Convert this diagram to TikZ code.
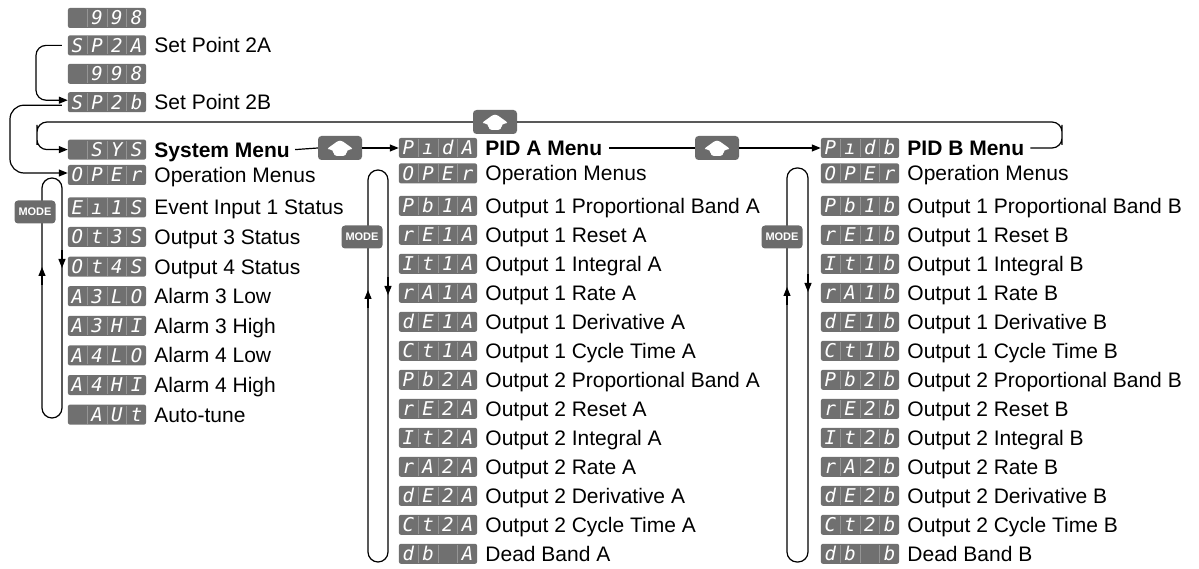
\documentclass[tikz,border=0pt]{standalone}
\usepackage{fontspec}
\setmainfont{Liberation Sans}
\newfontfamily\segfont{DejaVu Sans Mono}
\usepackage{tikz}
\usetikzlibrary{positioning,arrows.meta,calc}

\definecolor{dispgray}{HTML}{707070}
\definecolor{keygray}{HTML}{6B6B6B}
\definecolor{cellline}{HTML}{959595}

\newcommand{\segcell}[1]{\makebox[19pt]{\raisebox{-6.9pt}{#1}}}
\newcommand{\segsep}{{\color{cellline}\vrule width 0.7pt height 9pt depth 9pt}}
\newcommand{\segs}[4]{\segcell{#1}\segsep\segcell{#2}\segsep\segcell{#3}\segsep\segcell{#4}}

\begin{document}
\begin{tikzpicture}[
    x=1pt, y=-1pt,
    node distance=9.2pt and 8pt,
    disp/.style={
        fill=dispgray,
        rounded corners=2pt,
        inner sep=0pt,
        minimum width=78pt,
        minimum height=20pt,
        text=white,
        font=\segfont\itshape\fontsize{19}{19}\selectfont
    },
    lbl/.style={
        inner sep=0pt,
        text height=18pt,
        text depth=3pt,
        font=\fontsize{21}{21}\selectfont
    },
    hdr/.style={
        lbl,
        font=\bfseries\fontsize{21}{21}\selectfont
    },
    key/.style={
        fill=keygray,
        rounded corners=3.5pt,
        inner sep=0pt
    },
    upkey/.style={
        key,
        minimum width=44pt,
        minimum height=24pt,
        path picture={
            \fill[white] ($(path picture bounding box.center)+(0pt,8.5pt)$)
                -- ++(14pt,-10pt) -- ++(-7.5pt,0pt) -- ++(0pt,-6.5pt)
                -- ++(-13pt,0pt) -- ++(0pt,6.5pt) -- ++(-7.5pt,0pt) -- cycle;
        }
    },
    modekey/.style={
        key,
        minimum width=41pt,
        minimum height=23pt,
        text=white,
        font=\bfseries\fontsize{11}{11}\selectfont
    },
    line/.style={line width=1.2pt},
    arr/.style={line, -{Triangle[length=9pt,width=7pt]}}
]
    \useasboundingbox (0,0) rectangle (1199,569);

    %% Set points
    \node[disp] (nA) at (107,18) {\segs{}{9}{9}{8}};
    \node[disp, below=7pt of nA] (spa) {\segs{S}{P}{2}{A}};
    \node[lbl, right=of spa] (spaT) {Set Point 2A};
    \node[disp, below=8pt of spa] (nB) {\segs{}{9}{9}{8}};
    \node[disp, below=8pt of nB] (spb) {\segs{S}{P}{2}{b}};
    \node[lbl, right=of spb] (spbT) {Set Point 2B};

    %% System menu
    \node[disp, below=27pt of spb] (sys) {\segs{}{S}{Y}{S}};
    \node[hdr, right=of sys] (sysT) {System Menu};
    \node[disp, below=5pt of sys] (sys0) {\segs{O}{P}{E}{r}};
    \node[lbl, right=of sys0] {Operation Menus};
    \node[disp, below=12pt of sys0] (sys1) {\segs{E}{ı}{1}{S}};
    \node[lbl, right=of sys1] {Event Input 1 Status};
    \node[disp, below=of sys1] (sys2) {\segs{O}{t}{3}{S}};
    \node[lbl, right=of sys2] {Output 3 Status};
    \node[disp, below=of sys2] (sys3) {\segs{O}{t}{4}{S}};
    \node[lbl, right=of sys3] {Output 4 Status};
    \node[disp, below=of sys3] (sys4) {\segs{A}{3}{L}{O}};
    \node[lbl, right=of sys4] {Alarm 3 Low};
    \node[disp, below=of sys4] (sys5) {\segs{A}{3}{H}{I}};
    \node[lbl, right=of sys5] {Alarm 3 High};
    \node[disp, below=of sys5] (sys6) {\segs{A}{4}{L}{O}};
    \node[lbl, right=of sys6] {Alarm 4 Low};
    \node[disp, below=of sys6] (sys7) {\segs{A}{4}{H}{I}};
    \node[lbl, right=of sys7] {Alarm 4 High};
    \node[disp, below=of sys7] (sys8) {\segs{}{A}{U}{t}};
    \node[lbl, right=of sys8] {Auto-tune};

    %% PID A menu
    \node[disp] (pida) at (438,148) {\segs{P}{ı}{d}{A}};
    \node[hdr, right=of pida] (pidaT) {PID A Menu};
    \node[disp, below=5pt of pida] (pa0) {\segs{O}{P}{E}{r}};
    \node[lbl, right=of pa0] {Operation Menus};
    \node[disp, below=12pt of pa0] (pa1) {\segs{P}{b}{1}{A}};
    \node[lbl, right=of pa1] {Output 1 Proportional Band A};
    \node[disp, below=8.6pt of pa1] (pa2) {\segs{r}{E}{1}{A}};
    \node[lbl, right=of pa2] {Output 1 Reset A};
    \node[disp, below=8.6pt of pa2] (pa3) {\segs{I}{t}{1}{A}};
    \node[lbl, right=of pa3] {Output 1 Integral A};
    \node[disp, below=8.6pt of pa3] (pa4) {\segs{r}{A}{1}{A}};
    \node[lbl, right=of pa4] {Output 1 Rate A};
    \node[disp, below=8.6pt of pa4] (pa5) {\segs{d}{E}{1}{A}};
    \node[lbl, right=of pa5] {Output 1 Derivative A};
    \node[disp, below=8.6pt of pa5] (pa6) {\segs{C}{t}{1}{A}};
    \node[lbl, right=of pa6] {Output 1 Cycle Time A};
    \node[disp, below=8.6pt of pa6] (pa7) {\segs{P}{b}{2}{A}};
    \node[lbl, right=of pa7] {Output 2 Proportional Band A};
    \node[disp, below=8.6pt of pa7] (pa8) {\segs{r}{E}{2}{A}};
    \node[lbl, right=of pa8] {Output 2 Reset A};
    \node[disp, below=8.6pt of pa8] (pa9) {\segs{I}{t}{2}{A}};
    \node[lbl, right=of pa9] {Output 2 Integral A};
    \node[disp, below=8.6pt of pa9] (pa10) {\segs{r}{A}{2}{A}};
    \node[lbl, right=of pa10] {Output 2 Rate A};
    \node[disp, below=8.6pt of pa10] (pa11) {\segs{d}{E}{2}{A}};
    \node[lbl, right=of pa11] {Output 2 Derivative A};
    \node[disp, below=8.6pt of pa11] (pa12) {\segs{C}{t}{2}{A}};
    \node[lbl, right=of pa12] {Output 2 Cycle Time A};
    \node[disp, below=8.6pt of pa12] (pa13) {\segs{d}{b}{}{A}};
    \node[lbl, right=of pa13] {Dead Band A};

    %% PID B menu
    \node[disp] (pidb) at (860,148) {\segs{P}{ı}{d}{b}};
    \node[hdr, right=of pidb] (pidbT) {PID B Menu};
    \node[disp, below=5pt of pidb] (pb0) {\segs{O}{P}{E}{r}};
    \node[lbl, right=of pb0] {Operation Menus};
    \node[disp, below=12pt of pb0] (pb1) {\segs{P}{b}{1}{b}};
    \node[lbl, right=of pb1] {Output 1 Proportional Band B};
    \node[disp, below=8.6pt of pb1] (pb2) {\segs{r}{E}{1}{b}};
    \node[lbl, right=of pb2] {Output 1 Reset B};
    \node[disp, below=8.6pt of pb2] (pb3) {\segs{I}{t}{1}{b}};
    \node[lbl, right=of pb3] {Output 1 Integral B};
    \node[disp, below=8.6pt of pb3] (pb4) {\segs{r}{A}{1}{b}};
    \node[lbl, right=of pb4] {Output 1 Rate B};
    \node[disp, below=8.6pt of pb4] (pb5) {\segs{d}{E}{1}{b}};
    \node[lbl, right=of pb5] {Output 1 Derivative B};
    \node[disp, below=8.6pt of pb5] (pb6) {\segs{C}{t}{1}{b}};
    \node[lbl, right=of pb6] {Output 1 Cycle Time B};
    \node[disp, below=8.6pt of pb6] (pb7) {\segs{P}{b}{2}{b}};
    \node[lbl, right=of pb7] {Output 2 Proportional Band B};
    \node[disp, below=8.6pt of pb7] (pb8) {\segs{r}{E}{2}{b}};
    \node[lbl, right=of pb8] {Output 2 Reset B};
    \node[disp, below=8.6pt of pb8] (pb9) {\segs{I}{t}{2}{b}};
    \node[lbl, right=of pb9] {Output 2 Integral B};
    \node[disp, below=8.6pt of pb9] (pb10) {\segs{r}{A}{2}{b}};
    \node[lbl, right=of pb10] {Output 2 Rate B};
    \node[disp, below=8.6pt of pb10] (pb11) {\segs{d}{E}{2}{b}};
    \node[lbl, right=of pb11] {Output 2 Derivative B};
    \node[disp, below=8.6pt of pb11] (pb12) {\segs{C}{t}{2}{b}};
    \node[lbl, right=of pb12] {Output 2 Cycle Time B};
    \node[disp, below=8.6pt of pb12] (pb13) {\segs{d}{b}{}{b}};
    \node[lbl, right=of pb13] {Dead Band B};

    %% Up keys
    \node[upkey] (upa) at (340,148) {};
    \node[upkey] (upb) at (717,148) {};
    \node[upkey] (upc) at (495,122) {};

    %% Set point arrows
    \draw[arr, rounded corners=10pt] ([xshift=-6pt]spa.west) -| (36,70) |- ([yshift=2pt]spb.west);
    \draw[arr, rounded corners=14pt] ([xshift=-6pt,yshift=-3pt]spb.west) -| (10,140) |- ([yshift=2pt]sys0.west);

    %% Menu arrows
    \draw[line] ([xshift=5pt]sysT.east) -- (upa.west);
    \draw[arr] (upa.east) -- (pida.west);
    \draw[line] ([xshift=7pt]pidaT.east) -- (upb.west);
    \draw[arr] (upb.east) -- (pidb.west);
    \draw[line, rounded corners=10pt] ([xshift=6pt]pidbT.east) -| (1062,135) |- (upc.east);
    \draw[arr, rounded corners=10pt] (upc.west) -| (37,135) |- (sys.west);

    %% Mode loops
    \draw[line, rounded corners=10pt] (42,178) rectangle (62,418);
    \draw[arr] (62,250) -- (62,268);
    \draw[arr] (42,285) -- (42,267);
    \node[modekey] (modeS) at (35,212) {MODE};

    \draw[line, rounded corners=10pt] (368,170) rectangle (388,562);
    \draw[arr] (388,277) -- (388,295);
    \draw[arr] (368,308) -- (368,290);
    \node[modekey] (modeA) at (362,237) {MODE};

    \draw[line, rounded corners=10pt] (787,168) rectangle (808,562);
    \draw[arr] (808,274) -- (808,292);
    \draw[arr] (787,305) -- (787,287);
    \node[modekey] (modeB) at (782,237) {MODE};
\end{tikzpicture}
\end{document}
